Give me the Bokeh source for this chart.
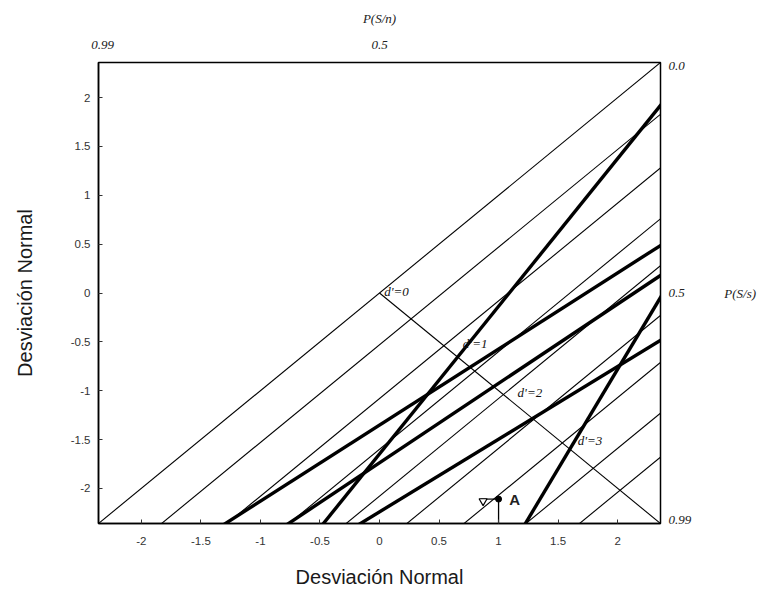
import numpy as np
from bokeh.plotting import figure
from bokeh.models import LinearAxis, FixedTicker, Range1d, Label
from bokeh.embed import file_html
from bokeh.resources import INLINE

# ---------------- data ----------------
x_ticks = [-2, -1.5, -1, -0.5, 0, 0.5, 1, 1.5, 2]
x_tick_labels = ["-2", "-1.5", "-1", "-0.5", "0", "0.5", "1", "1.5", "2"]
y_ticks = [-2, -1.5, -1, -0.5, 0, 0.5, 1, 1.5, 2]
y_tick_labels = ["-2", "-1.5", "-1", "-0.5", "0", "0.5", "1", "1.5", "2"]
top_ticks = [-2.326, 0.0]
top_tick_labels = ["0.99", "0.5"]
right_ticks = [2.326, 0.0, -2.326]
right_tick_labels = ["0.0", "0.5", "0.99"]

# iso-sensitivity lines (offset below the diagonal)
iso_dprime = [0, 0.53, 1.08, 1.6, 2.08, 2.59, 3.07, 3.59, 4.04]
# which iso lines carry a d' label
dprime_marked_index = [0, 2, 4, 6]
dprime_marked_labels = ["d'=0", "d'=1", "d'=2", "d'=3"]

# ROC lines: y = a + b x (normal-deviate coordinates)
roc_intercepts = [-1.648, -1.352, -1.739, -2.241, -4.86]
roc_slopes = [1.512, 0.779, 0.813, 0.744, 2.04]

point_a_x = [1.0]
point_a_y = [-2.11]
point_a_label = "A"

# ---------------- figure ----------------
LIM = 2.36
p = figure(width=760, height=593, output_backend="svg", toolbar_location=None,
           x_range=Range1d(-LIM, LIM), y_range=Range1d(-LIM, LIM),
           x_axis_location=None, y_axis_location=None,
           min_border_left=98, min_border_right=100, min_border_top=62, min_border_bottom=70)
p.xgrid.visible = False
p.ygrid.visible = False
p.outline_line_color = "black"
p.outline_line_width = 1.5
p.background_fill_color = "white"

SANS = "Liberation Sans"
SERIF = "Liberation Serif"

# bottom axis
xb = LinearAxis(ticker=FixedTicker(ticks=x_ticks),
                major_label_overrides={float(t): l for t, l in zip(x_ticks, x_tick_labels)},
                axis_label="Desviación Normal")
# left axis
yl = LinearAxis(ticker=FixedTicker(ticks=y_ticks),
                major_label_overrides={float(t): l for t, l in zip(y_ticks, y_tick_labels)},
                axis_label="Desviación Normal")
for ax in (xb, yl):
    ax.major_tick_in = 4
    ax.major_tick_out = 0
    ax.minor_tick_line_color = None
    ax.axis_line_color = "black"
    ax.axis_line_width = 1.5
    ax.major_tick_line_color = "#333"
    ax.major_label_text_font = SANS
    ax.major_label_text_font_size = "11.5px"
    ax.major_label_text_color = "#333"
    ax.axis_label_text_font = SANS
    ax.axis_label_text_font_size = "20px"
    ax.axis_label_text_font_style = "normal"
    ax.axis_label_text_color = "#1a1a1a"
xb.major_label_standoff = 13
xb.axis_label_standoff = 18
yl.major_label_standoff = 8
yl.axis_label_standoff = 32
p.add_layout(xb, "below")
p.add_layout(yl, "left")

# top axis
xt = LinearAxis(ticker=FixedTicker(ticks=top_ticks),
                major_label_overrides={float(t): l for t, l in zip(top_ticks, top_tick_labels)},
                axis_label="P(S/n)")
# right axis
yr = LinearAxis(ticker=FixedTicker(ticks=right_ticks),
                major_label_overrides={float(t): l for t, l in zip(right_ticks, right_tick_labels)},
                axis_label="P(S/s)")
for ax in (xt, yr):
    ax.major_tick_in = 0
    ax.major_tick_out = 0
    ax.minor_tick_line_color = None
    ax.axis_line_color = None
    ax.major_label_text_font = SERIF
    ax.major_label_text_font_style = "italic"
    ax.major_label_text_font_size = "13px"
    ax.major_label_text_color = "#222"
    ax.axis_label_text_font = SERIF
    ax.axis_label_text_font_style = "italic"
    ax.axis_label_text_font_size = "13px"
    ax.axis_label_text_color = "#222"
xt.major_label_standoff = 14
xt.axis_label_standoff = 12
yr.major_label_standoff = 8
yr.axis_label_standoff = 30
yr.axis_label_orientation = "horizontal"
yr.major_label_orientation = "horizontal"
p.add_layout(xt, "above")
p.add_layout(yr, "right")

# iso-sensitivity lines y = x - d'
xs_full = np.linspace(-LIM - 1, LIM + 1, 2)
for d in iso_dprime:
    p.line(xs_full, xs_full - d, line_color="black", line_width=1.1)

# negative diagonal from d'=0 to bottom-right corner
xs_neg = np.linspace(0, LIM + 0.5, 2)
p.line(xs_neg, -xs_neg, line_color="black", line_width=1.1)

# d' labels at the crossing of each labelled iso line with the negative diagonal
label_dx = [0.04, 0.16, 0.12, 0.13]
for i, lab, dx in zip(dprime_marked_index, dprime_marked_labels, label_dx):
    d = iso_dprime[i]
    p.add_layout(Label(x=d / 2 + dx, y=-d / 2 + 0.02, text=lab, text_font=SERIF,
                       text_font_style="italic", text_font_size="13px",
                       text_baseline="middle", text_color="#111"))

# ROC lines (thick)
for a, b in zip(roc_intercepts, roc_slopes):
    p.line(xs_full, a + b * xs_full, line_color="black", line_width=3.4)

# point A
ax_, ay_ = point_a_x[0], point_a_y[0]
p.segment(x0=point_a_x, y0=point_a_y, x1=point_a_x, y1=[-LIM] * len(point_a_x),
          line_color="black", line_width=1.3)
p.segment(x0=point_a_x, y0=point_a_y, x1=[x - 0.15 for x in point_a_x], y1=point_a_y,
          line_color="black", line_width=1.2)
p.scatter(x=[x - 0.13 for x in point_a_x], y=[y - 0.02 for y in point_a_y],
          marker="inverted_triangle", size=8, fill_color="white", line_color="black",
          line_width=1.2)
p.scatter(x=point_a_x, y=point_a_y, marker="circle", size=6, fill_color="black",
          line_color="black")
p.add_layout(Label(x=ax_ + 0.09, y=ay_, text=point_a_label, text_font=SANS,
                   text_font_style="bold", text_font_size="15px", text_baseline="middle",
                   text_color="#222"))

open("out.html", "w").write(file_html(p, INLINE))
